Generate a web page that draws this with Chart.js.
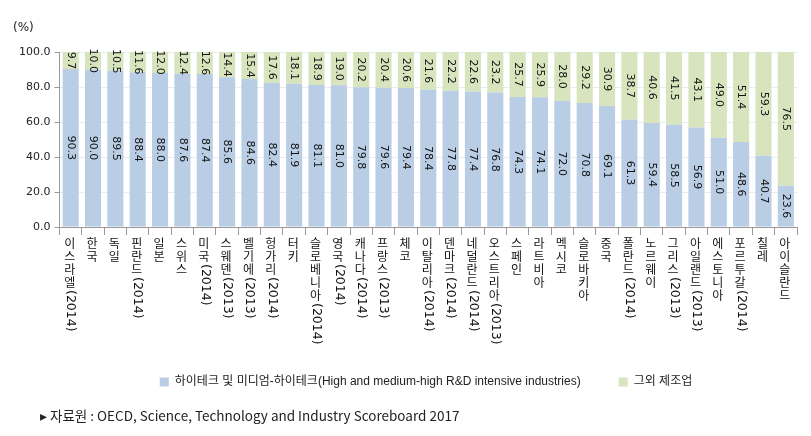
<!DOCTYPE html>
<html>
<head>
<meta charset="utf-8">
<script src="https://cdn.jsdelivr.net/npm/chart.js@4.4.1/dist/chart.umd.min.js"></script>
<style>
  html, body { margin: 0; padding: 0; background: #fff; }
  #wrap { position: relative; width: 811px; height: 436px; }
  #unit { position: absolute; left: 13px; top: 20px; font: 12px "DejaVu Sans"; color: #222; }
  #src { position: absolute; left: 40px; top: 405px; font: 13.5px "Liberation Sans Narrow", "Noto Sans CJK KR"; color: #222; white-space: nowrap; }
</style>
</head>
<body>
<div id="wrap">
  <canvas id="chart" width="811" height="436"></canvas>
  <div id="unit">(%)</div>
  <div id="src">&#9656; 자료원 : OECD, Science, Technology and Industry Scoreboard 2017</div>
</div>
<script>
/* ============================= */
/* DATA */
/* ============================= */

const countries = [
  "이스라엘(2014)", "한국", "독일", "핀란드(2014)", "일본", "스위스", "미국(2014)",
  "스웨덴(2013)", "벨기에(2013)", "헝가리(2014)", "터키", "슬로베니아(2014)", "영국(2014)",
  "캐나다(2014)", "프랑스(2013)", "체코", "이탈리아(2014)", "덴마크(2014)", "네덜란드(2014)",
  "오스트리아(2013)", "스페인", "라트비아", "멕시코", "슬로바키아", "중국", "폴란드(2014)",
  "노르웨이", "그리스(2013)", "아일랜드(2013)", "에스토니아", "포르투갈(2014)", "칠레", "아이슬란드"
];
const highTech = [
  90.3, 90.0, 89.5, 88.4, 88.0, 87.6, 87.4, 85.6, 84.6, 82.4, 81.9, 81.1, 81.0,
  79.8, 79.6, 79.4, 78.4, 77.8, 77.4, 76.8, 74.3, 74.1, 72.0, 70.8, 69.1, 61.3,
  59.4, 58.5, 56.9, 51.0, 48.6, 40.7, 23.6
];
const otherMfg = [
  9.7, 10.0, 10.5, 11.6, 12.0, 12.4, 12.6, 14.4, 15.4, 17.6, 18.1, 18.9, 19.0,
  20.2, 20.4, 20.6, 21.6, 22.2, 22.6, 23.2, 25.7, 25.9, 28.0, 29.2, 30.9, 38.7,
  40.6, 41.5, 43.1, 49.0, 51.4, 59.3, 76.5
];
const seriesNames = ["하이테크 및 미디엄-하이테크(High and medium-high R&D intensive industries)", "그외 제조업"];
const yMin = 0, yMax = 100, yStep = 20;

/* ============================= */
/* PLUGINS */
/* ============================= */

// vertical category labels: hangul upright, year part turned sideways
const verticalLabels = {
  id: "verticalLabels",
  afterDraw(chart) {
    const ctx = chart.ctx;
    const xs = chart.scales.x;
    const top = chart.chartArea.bottom + 10;
    ctx.save();
    ctx.fillStyle = "#111";
    countries.forEach((name, i) => {
      const x = xs.getPixelForValue(i) - 1;
      const p = name.indexOf("(");
      const kor = p < 0 ? name : name.slice(0, p);
      const yr = p < 0 ? "" : name.slice(p);
      ctx.font = '12px "Noto Sans CJK KR"';
      ctx.textAlign = "center";
      ctx.textBaseline = "top";
      let y = top;
      for (const ch of kor) {
        ctx.fillText(ch, x, y);
        y += 13;
      }
      if (yr) {
        ctx.save();
        ctx.translate(x + 1, y + 1);
        ctx.rotate(Math.PI / 2);
        ctx.font = '12.5px "DejaVu Sans"';
        ctx.textAlign = "left";
        ctx.textBaseline = "middle";
        ctx.fillText(yr, 0, 0);
        ctx.restore();
      }
    });
    ctx.restore();
  }
};

// values written sideways in the middle of each segment
const barValues = {
  id: "barValues",
  afterDatasetsDraw(chart) {
    const ctx = chart.ctx;
    ctx.save();
    ctx.font = '11px "DejaVu Sans"';
    ctx.fillStyle = "#111";
    ctx.textAlign = "center";
    ctx.textBaseline = "middle";
    chart.data.datasets.forEach((ds, d) => {
      chart.getDatasetMeta(d).data.forEach((bar, i) => {
        const top = Math.max(bar.y, chart.chartArea.top);
        const cy = (top + bar.base) / 2;
        ctx.save();
        ctx.translate(bar.x, cy);
        ctx.rotate(Math.PI / 2);
        ctx.fillText(ds.data[i].toFixed(1), 0, 0);
        ctx.restore();
      });
    });
    ctx.restore();
  }
};

// legend sits a little right of centre in the original
const legendShift = {
  id: "legendShift",
  afterLayout(chart) {
    chart.legend.left += 20;
    chart.legend.right += 20;
  }
};

/* ============================= */
/* CHART */
/* ============================= */

new Chart(document.getElementById("chart"), {
  type: "bar",
  data: {
    labels: countries,
    datasets: [
      { label: seriesNames[0], data: highTech, backgroundColor: "#b9cde5" },
      { label: seriesNames[1], data: otherMfg, backgroundColor: "#d7e4bd" }
    ]
  },
  options: {
    responsive: false,
    animation: false,
    devicePixelRatio: 1,
    layout: { padding: { top: 52, right: 14, left: 15, bottom: 38 } },
    datasets: { bar: { barPercentage: 0.72, categoryPercentage: 1 } },
    plugins: {
      tooltip: { enabled: false },
      legend: {
        position: "bottom",
        labels: {
          boxWidth: 9,
          boxHeight: 9,
          padding: 38,
          color: "#222",
          font: { family: '"Liberation Sans", "Noto Sans CJK KR"', size: 12 }
        }
      }
    },
    scales: {
      x: {
        stacked: true,
        grid: { offset: true, drawOnChartArea: false, tickLength: 8, tickColor: "#999" },
        border: { color: "#999" },
        ticks: { display: false },
        afterFit: (s) => { s.height = 111; }
      },
      y: {
        stacked: true,
        min: yMin,
        max: yMax,
        grid: { color: "#ececec", tickLength: 5, tickColor: "#999" },
        border: { color: "#999" },
        ticks: {
          stepSize: yStep,
          color: "#222",
          padding: 4,
          font: { family: "DejaVu Sans", size: 11 },
          callback: (v) => v.toFixed(1)
        }
      }
    }
  },
  plugins: [barValues, verticalLabels, legendShift]
});
</script>
</body>
</html>
